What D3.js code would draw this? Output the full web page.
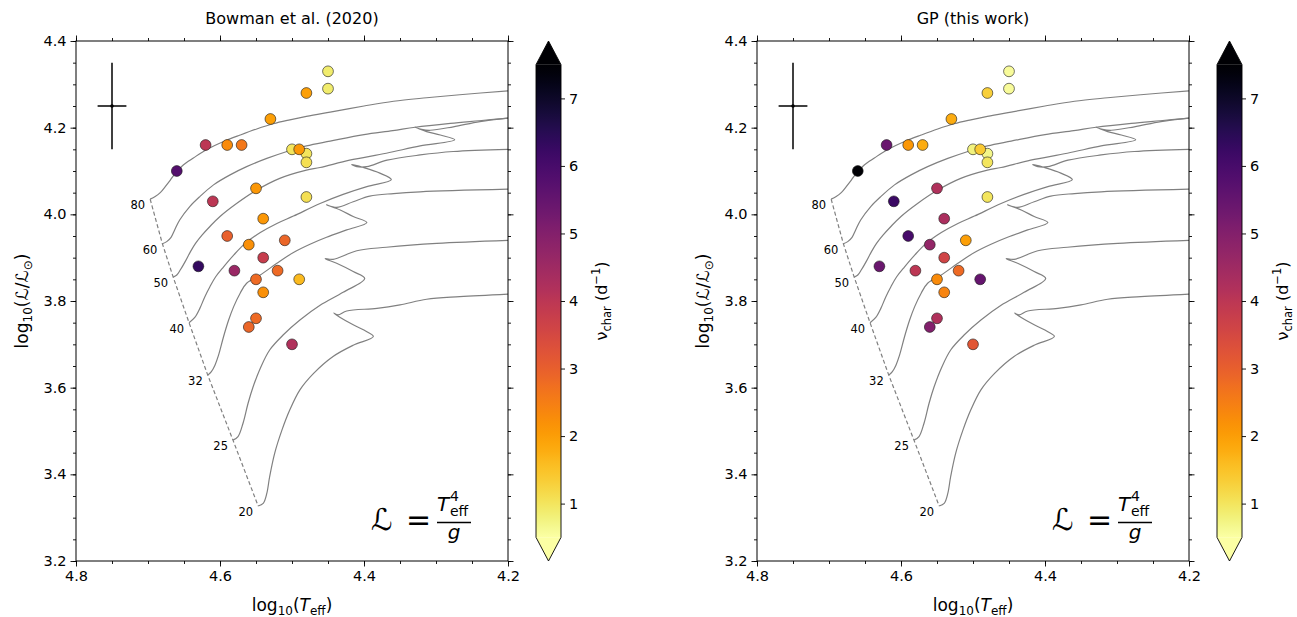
<!DOCTYPE html>
<html><head><meta charset="utf-8">
<script src="https://cdn.jsdelivr.net/npm/d3@7"></script>
<style>
body{margin:0;background:#fff}
svg{display:block}
text{font-family:"DejaVu Sans",sans-serif;fill:#000}
</style>
</head><body>
<svg id="c" width="1297" height="617"></svg>
<script>
// ---- data ----
const logTeff = [4.45,4.45,4.48,4.53,4.62,4.59,4.57,4.66,4.50,4.48,4.48,4.49,4.55,4.48,4.61,4.54,4.59,4.56,4.51,4.54,4.63,4.58,4.55,4.52,4.49,4.54,4.55,4.56,4.50];
const logL    = [4.33,4.29,4.28,4.22,4.16,4.16,4.16,4.10,4.15,4.14,4.12,4.15,4.06,4.04,4.03,3.99,3.95,3.93,3.94,3.90,3.88,3.87,3.85,3.87,3.85,3.82,3.76,3.74,3.70];
const nuBowman= [0.9,0.9,2.0,2.0,4.0,2.3,2.6,5.8,1.0,1.0,1.1,2.1,2.1,1.1,4.0,2.1,3.0,2.2,2.9,3.8,6.3,4.6,2.8,2.8,1.6,2.2,2.8,2.9,4.2];
const nuGP    = [0.6,0.6,1.3,1.8,5.4,2.1,1.8,7.5,0.8,0.7,1.0,1.4,4.2,1.0,6.2,4.3,6.0,4.7,2.0,3.6,5.4,4.0,2.3,2.8,5.5,2.4,4.2,5.0,3.2];
const titles = ["Bowman et al. (2020)", "GP (this work)"];

const massLabels = ["80","60","50","40","32","25","20"];
const zamsT = [4.697,4.680,4.665,4.643,4.617,4.582,4.547];
const zamsL = [4.035,3.932,3.855,3.750,3.629,3.479,3.327];

const track80 = [[4.697,4.035],[4.690,4.041],[4.683,4.050],[4.676,4.064],[4.669,4.079],[4.660,4.099],[4.651,4.114],[4.637,4.130],[4.619,4.149],[4.595,4.168],[4.572,4.183],[4.549,4.197],[4.526,4.209],[4.503,4.218],[4.480,4.226],[4.447,4.236],[4.400,4.250],[4.359,4.261],[4.313,4.269],[4.267,4.276],[4.200,4.285]];
const track60 = [[4.680,3.932],[4.674,3.937],[4.668,3.947],[4.663,3.964],[4.656,3.987],[4.642,4.018],[4.628,4.041],[4.609,4.068],[4.586,4.091],[4.563,4.110],[4.535,4.129],[4.507,4.145],[4.480,4.158],[4.447,4.169],[4.400,4.184],[4.360,4.193],[4.329,4.201],[4.280,4.210],[4.240,4.216],[4.200,4.222]];
const track50 = [[4.665,3.855],[4.660,3.860],[4.655,3.872],[4.648,3.892],[4.641,3.914],[4.634,3.933],[4.625,3.952],[4.614,3.972],[4.600,3.995],[4.577,4.025],[4.549,4.056],[4.517,4.083],[4.480,4.102],[4.461,4.108],[4.420,4.125],[4.369,4.141],[4.322,4.158],[4.274,4.172],[4.294,4.183],[4.313,4.191],[4.329,4.201],[4.320,4.196],[4.308,4.194],[4.276,4.202],[4.239,4.214],[4.200,4.222]];
const track40 = [[4.643,3.750],[4.635,3.762],[4.628,3.783],[4.621,3.810],[4.614,3.833],[4.606,3.856],[4.595,3.879],[4.581,3.906],[4.565,3.933],[4.544,3.958],[4.521,3.979],[4.498,3.996],[4.461,4.025],[4.429,4.046],[4.396,4.064],[4.362,4.080],[4.378,4.095],[4.401,4.108],[4.417,4.115],[4.410,4.110],[4.396,4.110],[4.368,4.125],[4.322,4.137],[4.276,4.145],[4.200,4.150]];
const track32 = [[4.617,3.629],[4.612,3.637],[4.607,3.652],[4.602,3.675],[4.595,3.718],[4.588,3.756],[4.581,3.787],[4.572,3.818],[4.563,3.841],[4.544,3.860],[4.521,3.887],[4.498,3.912],[4.475,3.931],[4.452,3.947],[4.424,3.964],[4.396,3.981],[4.415,3.995],[4.433,4.010],[4.452,4.022],[4.438,4.016],[4.415,4.029],[4.392,4.042],[4.359,4.048],[4.322,4.052],[4.200,4.058]];
const track25 = [[4.582,3.479],[4.575,3.487],[4.568,3.518],[4.561,3.564],[4.554,3.602],[4.544,3.645],[4.531,3.687],[4.512,3.722],[4.489,3.756],[4.461,3.790],[4.429,3.820],[4.399,3.852],[4.415,3.868],[4.438,3.887],[4.454,3.898],[4.443,3.896],[4.410,3.916],[4.369,3.924],[4.299,3.933],[4.200,3.940]];
const track20 = [[4.547,3.327],[4.540,3.333],[4.535,3.356],[4.531,3.395],[4.524,3.449],[4.514,3.502],[4.503,3.549],[4.489,3.595],[4.470,3.633],[4.443,3.672],[4.415,3.698],[4.387,3.718],[4.396,3.729],[4.415,3.745],[4.433,3.762],[4.442,3.772],[4.436,3.768],[4.424,3.777],[4.382,3.783],[4.350,3.791],[4.313,3.804],[4.267,3.810],[4.200,3.816]];
const tracks = [track80, track60, track50, track40, track32, track25, track20];

const errCenter = [4.75, 4.25];
const errSize = [0.02, 0.10];

const xTicks = [4.8, 4.6, 4.4, 4.2];
const yTicks = [3.2, 3.4, 3.6, 3.8, 4.0, 4.2, 4.4];
const cbTicks = [1, 2, 3, 4, 5, 6, 7];
const nuRange = [0.5, 7.5];

// ---- layout ----
const svg = d3.select("#c");
const yTop = 41, yBot = 561;
const panels = [{x0: 76, x1: 508, cb: 536, nu: nuBowman, title: titles[0]},
                {x0: 757, x1: 1189, cb: 1217, nu: nuGP, title: titles[1]}];
const cbW = 25;
const ext = (yBot - yTop) / 1.1 * 0.05;
const tickFs = 14.5, labFs = 17, subFs = 12;

const color = v => d3.interpolateInferno(1 - (v - nuRange[0]) / (nuRange[1] - nuRange[0]));

const defs = svg.append("defs");
const grad = defs.append("linearGradient").attr("id", "cbg").attr("x1", 0).attr("x2", 0).attr("y1", 1).attr("y2", 0);
d3.range(0, 1.0001, 0.02).forEach(t => {
  grad.append("stop").attr("offset", t).attr("stop-color", d3.interpolateInferno(1 - t));
});

panels.forEach((p, pi) => {
  const x = d3.scaleLinear().domain([4.8, 4.2]).range([p.x0, p.x1]);
  const y = d3.scaleLinear().domain([3.2, 4.4]).range([yBot, yTop]);
  const g = svg.append("g");

  const minorX = d3.range(4.8, 4.1999, -0.05).map(v => +v.toFixed(2));
  const minorY = d3.range(3.2, 4.4001, 0.05).map(v => +v.toFixed(2));

  const mkAxis = (axisFn, scale, vals, size, labels) =>
    axisFn(scale).tickValues(vals).tickSize(size).tickSizeOuter(0).tickPadding(4)
      .tickFormat(labels ? d3.format(".1f") : () => "");

  g.append("g").attr("transform", `translate(0,${yBot})`).call(mkAxis(d3.axisBottom, x, minorX, 3, false));
  g.append("g").attr("transform", `translate(0,${yTop})`).call(mkAxis(d3.axisTop, x, minorX, 3, false));
  g.append("g").attr("transform", `translate(${p.x0},0)`).call(mkAxis(d3.axisLeft, y, minorY, 3, false));
  g.append("g").attr("transform", `translate(${p.x1},0)`).call(mkAxis(d3.axisRight, y, minorY, 3, false));
  g.append("g").attr("transform", `translate(0,${yBot})`).attr("class", "lab").call(mkAxis(d3.axisBottom, x, xTicks, 5.5, true));
  g.append("g").attr("transform", `translate(0,${yTop})`).call(mkAxis(d3.axisTop, x, xTicks, 5.5, false));
  g.append("g").attr("transform", `translate(${p.x0},0)`).attr("class", "lab").call(mkAxis(d3.axisLeft, y, yTicks, 5.5, true));
  g.append("g").attr("transform", `translate(${p.x1},0)`).call(mkAxis(d3.axisRight, y, yTicks, 5.5, false));
  g.selectAll(".domain").remove();
  g.selectAll(".tick line").attr("stroke", "#000").attr("stroke-width", 0.9);
  g.selectAll(".lab .tick text").attr("font-size", tickFs).attr("font-family", "DejaVu Sans").attr("fill", "#000");

  const line = d3.line().x(d => x(d[0])).y(d => y(d[1])).curve(d3.curveCatmullRom.alpha(0.5));
  tracks.forEach(tr => {
    g.append("path").attr("d", line(tr)).attr("fill", "none").attr("stroke", "#808080").attr("stroke-width", 1.2);
  });
  g.append("path").attr("d", d3.line().x((d, i) => x(zamsT[i])).y((d, i) => y(zamsL[i]))(zamsT))
    .attr("fill", "none").attr("stroke", "#808080").attr("stroke-width", 1.2).attr("stroke-dasharray", "4,2.5");
  massLabels.forEach((m, i) => {
    g.append("text").attr("x", x(zamsT[i]) - 5).attr("y", y(zamsL[i]) + 10)
      .attr("text-anchor", "end").attr("font-size", 11.5).text(m);
  });

  const ex = x(errCenter[0]), ey = y(errCenter[1]);
  const exl = x(errCenter[0] + errSize[0]), exr = x(errCenter[0] - errSize[0]);
  const eyt = y(errCenter[1] + errSize[1]), eyb = y(errCenter[1] - errSize[1]);
  const eg = g.append("g").attr("stroke", "#000").attr("stroke-width", 1.5);
  eg.append("line").attr("x1", exl).attr("x2", exr).attr("y1", ey).attr("y2", ey);
  eg.append("line").attr("x1", ex).attr("x2", ex).attr("y1", eyt).attr("y2", eyb);
  g.append("circle").attr("cx", ex).attr("cy", ey).attr("r", 1.8).attr("fill", "#000");

  g.selectAll("circle.pt").data(logTeff.map((t, i) => i)).enter().append("circle")
    .attr("class", "pt")
    .attr("cx", i => x(logTeff[i])).attr("cy", i => y(logL[i])).attr("r", 5.4)
    .attr("fill", i => color(p.nu[i])).attr("stroke", "#1a1a1a").attr("stroke-width", 0.6);

  g.append("rect").attr("x", p.x0).attr("y", yTop).attr("width", p.x1 - p.x0).attr("height", yBot - yTop)
    .attr("fill", "none").attr("stroke", "#000").attr("stroke-width", 1);

  g.append("text").attr("x", (p.x0 + p.x1) / 2).attr("y", 24).attr("text-anchor", "middle")
    .attr("font-size", 16).text(p.title);

  const xl = g.append("text").attr("x", (p.x0 + p.x1) / 2).attr("y", 611).attr("text-anchor", "middle").attr("font-size", labFs);
  xl.append("tspan").text("log");
  xl.append("tspan").attr("font-size", subFs).attr("dy", 4).text("10");
  xl.append("tspan").attr("dy", -4).text("(");
  xl.append("tspan").attr("font-style", "italic").text("T");
  xl.append("tspan").attr("font-size", subFs).attr("dy", 4).text("eff");
  xl.append("tspan").attr("dy", -4).text(")");

  const yl = g.append("text").attr("transform", `translate(${p.x0 - 48},${(yTop + yBot) / 2}) rotate(-90)`)
    .attr("text-anchor", "middle").attr("font-size", labFs);
  yl.append("tspan").text("log");
  yl.append("tspan").attr("font-size", subFs).attr("dy", 4).text("10");
  yl.append("tspan").attr("dy", -4).text("(ℒ/ℒ");
  yl.append("tspan").attr("font-size", subFs).attr("dy", 4).text("⊙");
  yl.append("tspan").attr("dy", -4).text(")");

  const fx = x(4.8) + 295;
  g.append("text").attr("x", fx).attr("y", 530).attr("font-size", 30).attr("font-style", "italic").text("ℒ");
  g.append("text").attr("x", fx + 35).attr("y", 530).attr("font-size", 30).text("=");
  g.append("text").attr("x", fx + 66).attr("y", 511).attr("font-size", 20).attr("font-style", "italic").text("T");
  g.append("text").attr("x", fx + 79).attr("y", 501).attr("font-size", 14).text("4");
  g.append("text").attr("x", fx + 79).attr("y", 516).attr("font-size", 14).text("eff");
  g.append("line").attr("x1", fx + 66).attr("x2", fx + 100).attr("y1", 522.5).attr("y2", 522.5).attr("stroke", "#000").attr("stroke-width", 1.4);
  g.append("text").attr("x", fx + 83).attr("y", 539).attr("text-anchor", "middle").attr("font-size", 20).attr("font-style", "italic").text("g");

  const cy = d3.scaleLinear().domain(nuRange).range([yBot - ext, yTop + ext]);
  const cg = svg.append("g");
  cg.append("rect").attr("x", p.cb).attr("y", yTop + ext).attr("width", cbW).attr("height", yBot - yTop - 2 * ext).attr("fill", "url(#cbg)");
  cg.append("path").attr("d", `M${p.cb},${yTop + ext}L${p.cb + cbW / 2},${yTop}L${p.cb + cbW},${yTop + ext}Z`).attr("fill", color(nuRange[1] + 1));
  cg.append("path").attr("d", `M${p.cb},${yBot - ext}L${p.cb + cbW / 2},${yBot}L${p.cb + cbW},${yBot - ext}Z`).attr("fill", color(nuRange[0] - 1));
  cg.append("path").attr("d", `M${p.cb},${yTop + ext}L${p.cb + cbW / 2},${yTop}L${p.cb + cbW},${yTop + ext}L${p.cb + cbW},${yBot - ext}L${p.cb + cbW / 2},${yBot}L${p.cb},${yBot - ext}Z`)
    .attr("fill", "none").attr("stroke", "#000").attr("stroke-width", 0.9);
  const ca = cg.append("g").attr("transform", `translate(${p.cb + cbW},0)`)
    .call(d3.axisRight(cy).tickValues(cbTicks).tickSize(4).tickPadding(4).tickFormat(d3.format("d")));
  ca.select(".domain").remove();
  ca.selectAll(".tick line").attr("stroke", "#000").attr("stroke-width", 0.9);
  ca.selectAll(".tick text").attr("font-size", tickFs).attr("font-family", "DejaVu Sans").attr("fill", "#000");
  const cl = cg.append("text").attr("transform", `translate(${p.cb + 71},${(yTop + yBot) / 2}) rotate(-90)`)
    .attr("text-anchor", "middle").attr("font-size", 16);
  cl.append("tspan").text("ν");
  cl.append("tspan").attr("font-size", 11.5).attr("dy", 4).text("char");
  cl.append("tspan").attr("dy", -4).text(" (d");
  cl.append("tspan").attr("font-size", 11.5).attr("dy", -7).text("−1");
  cl.append("tspan").attr("dy", 7).text(")");
});
</script>
</body></html>
